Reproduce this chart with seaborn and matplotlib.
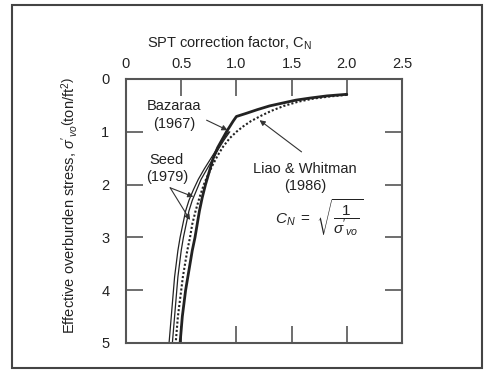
import seaborn as sns
import pandas as pd
import matplotlib.pyplot as plt
from matplotlib.patches import Rectangle

# values (C_N against sigma'_vo in ton/ft^2)
bazaraa_stress = [0.29, 0.32, 0.36, 0.40, 0.45, 0.51, 0.58, 0.65, 0.71,
                  0.80, 0.90, 1.0, 1.15, 1.3, 1.5, 1.75, 2.0, 2.25, 2.5,
                  2.75, 3.0, 3.25, 3.5, 3.75, 4.0, 4.25, 4.5, 4.75, 5.0]
bazaraa_cn = [2.0, 1.82, 1.67, 1.54, 1.43, 1.30, 1.19, 1.09, 1.0,
              0.97, 0.94, 0.91, 0.87, 0.83, 0.79, 0.755, 0.72, 0.69, 0.665,
              0.645, 0.625, 0.60, 0.58, 0.56, 0.54, 0.525, 0.51, 0.50, 0.49]

liao_stress = [0.30, 0.33, 0.37, 0.43, 0.51, 0.60, 0.70, 0.80, 0.90, 1.0,
               1.12, 1.28, 1.45, 1.65, 1.85, 2.0, 2.25, 2.5, 2.75, 3.0,
               3.25, 3.5, 3.75, 4.0, 4.25, 4.5, 4.75, 5.0]
liao_cn = [2.0, 1.85, 1.70, 1.56, 1.43, 1.32, 1.22, 1.13, 1.06, 1.0,
           0.94, 0.88, 0.83, 0.78, 0.735, 0.705, 0.665, 0.63, 0.60, 0.58,
           0.555, 0.535, 0.515, 0.50, 0.485, 0.47, 0.46, 0.45]

seed_stress = [1.0, 1.15, 1.3, 1.5, 1.7, 1.9, 2.1, 2.3, 2.5, 2.75, 3.0,
               3.25, 3.5, 3.75, 4.0, 4.25, 4.5, 4.75, 5.0]
seed_lo_cn = [0.93, 0.88, 0.83, 0.77, 0.71, 0.655, 0.61, 0.57, 0.54, 0.515,
              0.49, 0.47, 0.455, 0.44, 0.43, 0.42, 0.41, 0.40, 0.39]
seed_hi_cn = [0.94, 0.89, 0.845, 0.79, 0.735, 0.68, 0.64, 0.60, 0.57, 0.545,
              0.52, 0.50, 0.485, 0.47, 0.46, 0.45, 0.44, 0.43, 0.42]

x_ticks = [0, 0.5, 1.0, 1.5, 2.0, 2.5]
x_labels = ["0", "0.5", "1.0", "1.5", "2.0", "2.5"]
y_ticks = [0, 1, 2, 3, 4, 5]

sns.set_style("white", {"axes.edgecolor": "#555555"})
plt.rcParams["font.family"] = ["Liberation Sans", "DejaVu Sans"]
plt.rcParams["mathtext.fontset"] = "custom"
plt.rcParams["mathtext.rm"] = "Liberation Sans"
plt.rcParams["mathtext.it"] = "Liberation Sans:italic"
plt.rcParams["mathtext.bf"] = "Liberation Sans:bold"

ink = "#222222"
f = plt.figure(figsize=(4.85, 3.71), dpi=100)
ax = f.add_axes([126 / 485, 1 - 343 / 371, 276 / 485, 264 / 371])

def draw(cn, stress, **kw):
    df = pd.DataFrame({"cn": cn, "stress": stress})
    sns.lineplot(data=df, x="cn", y="stress", sort=False, estimator=None,
                 ax=ax, color=ink, **kw)

draw(seed_lo_cn, seed_stress, lw=0.9)
draw(seed_hi_cn, seed_stress, lw=0.9)
draw(liao_cn, liao_stress, lw=1.5, linestyle=(0, (1, 1)))
draw(bazaraa_cn, bazaraa_stress, lw=2.0)

ax.set_xlim(0, 2.5)
ax.set_ylim(5, 0)
ax.set_xticks(x_ticks)
ax.set_xticklabels(x_labels)
ax.set_yticks(y_ticks)
ax.set_xlabel("")
ax.tick_params(axis="x", direction="in", length=12, width=1.2, color="#555555",
               top=True, bottom=True, labeltop=True, labelbottom=False,
               labelsize=10.5, labelcolor=ink, pad=6)
ax.tick_params(axis="y", direction="in", length=12, width=1.2, color="#555555",
               left=True, right=True, labelsize=10.5, labelcolor=ink, pad=12)
for s in ax.spines.values():
    s.set_linewidth(1.5)

ax.set_ylabel(r"Effective overburden stress, $\sigma'_{vo}\left(\mathrm{ton/ft}^2\right)$",
              fontsize=10.5, color=ink)
ax.yaxis.set_label_coords(-0.168, 0.52)
f.text(229 / 485, 1 - 43 / 371, r"SPT correction factor, $\mathrm{C_N}$",
       ha="center", va="center", fontsize=10.5, color=ink)

arrow = dict(arrowstyle="-|>", color="#333333", lw=0.8, mutation_scale=8,
             shrinkA=0, shrinkB=0)
ax.annotate("", xy=(0.92, 0.97), xytext=(0.73, 0.78), arrowprops=arrow)
ax.text(0.435, 0.68, "Bazaraa\n(1967)", ha="center", va="center",
        fontsize=10.5, color=ink, linespacing=1.3)
ax.annotate("", xy=(0.61, 2.23), xytext=(0.40, 2.06), arrowprops=arrow)
ax.annotate("", xy=(0.58, 2.67), xytext=(0.40, 2.06), arrowprops=arrow)
ax.text(0.37, 1.69, "Seed\n(1979)", ha="center", va="center",
        fontsize=10.5, color=ink, linespacing=1.3)
ax.annotate("", xy=(1.21, 0.78), xytext=(1.59, 1.38), arrowprops=arrow)
ax.text(1.62, 1.86, "Liao & Whitman\n(1986)", ha="center", va="center",
        fontsize=10.5, color=ink, linespacing=1.3)
ax.text(1.35, 2.63, r"$C_N\ =\ \sqrt{\dfrac{1}{\sigma'_{vo}}}$", ha="left",
        va="center", fontsize=11, color=ink)

f.patches.append(Rectangle((12 / 485, 1 - 368 / 371), 470 / 485, 363 / 371,
                           transform=f.transFigure, fill=False, lw=1.5,
                           ec="#444444"))
plt.savefig("out.png", dpi=100)
